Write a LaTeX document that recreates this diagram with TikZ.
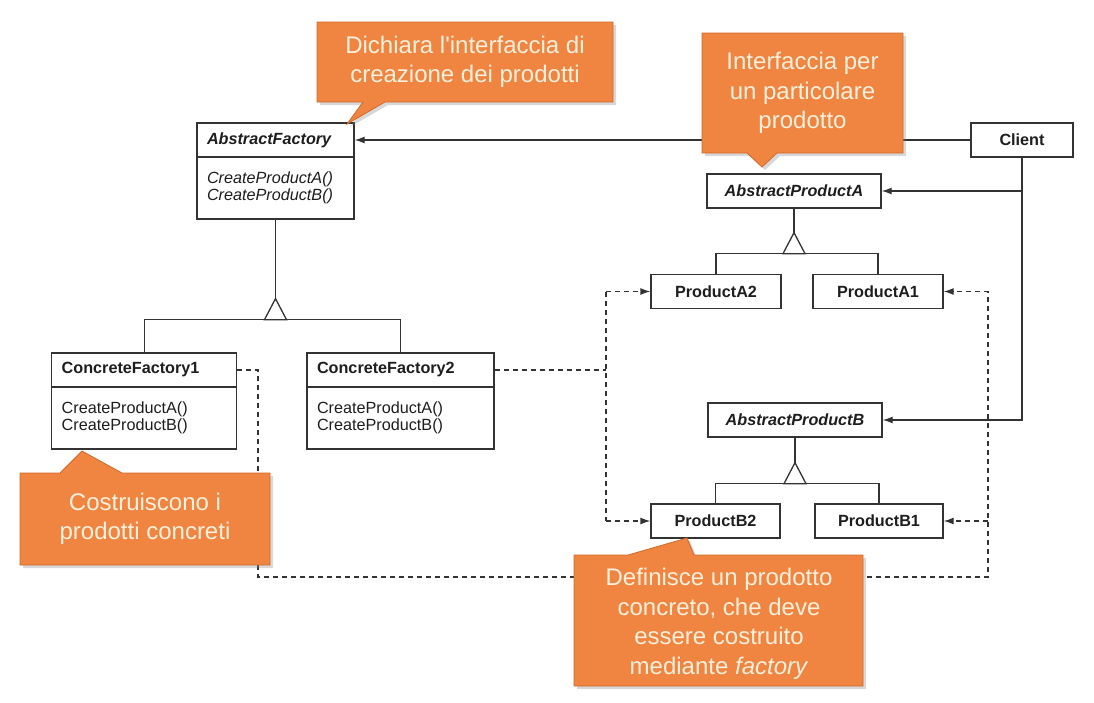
\documentclass[tikz,border=0pt]{standalone}
\usepackage{fontspec}
\setmainfont{Liberation Sans}
\newfontfamily\calfont{Liberation Sans}
\usetikzlibrary{arrows.meta,shadows}
\definecolor{calfill}{HTML}{EF8541}
\definecolor{caldraw}{HTML}{CF6B2C}
\definecolor{caltext}{HTML}{FDF0DC}
\definecolor{umlline}{HTML}{333333}
\definecolor{umltext}{HTML}{1E1E1E}

\begin{document}
\begin{tikzpicture}[x=1pt, y=-1pt,
    draw=umlline, line width=1.3pt,
    cls/.style = {draw, fill=white, text=umltext, inner xsep=10pt, inner ysep=0pt,
                  minimum height=34pt, align=left, font=\fontsize{16.2}{17}\selectfont\bfseries},
    mth/.style = {draw, fill=white, text=umltext, inner xsep=10pt, inner ysep=0pt,
                  minimum height=62pt, align=left, font=\fontsize{16.2}{17}\selectfont},
    prd/.style = {draw, fill=white, text=umltext, inner sep=0pt, minimum height=34pt,
                  font=\fontsize{16.2}{17}\selectfont\bfseries},
    arr/.style = {-{Latex[length=10pt,width=7pt]}},
    dsh/.style = {dash pattern=on 5pt off 4pt},
    cal/.style = {fill=calfill, draw=caldraw, line width=0.8pt,
                  drop shadow={shadow xshift=3pt, shadow yshift=-3pt, opacity=0.3}},
    ctx/.style = {text=caltext, align=center, font=\calfont\fontsize{24}{29.5}\selectfont}
  ]
  \path[use as bounding box, fill=white] (0,0) rectangle (1094,702);

  \node[cls, text width=137pt] (af) at (275.5,140) {\itshape AbstractFactory};
  \node[mth, text width=137pt, font=\fontsize{16.2}{17}\selectfont\itshape] (afm) at (275.5,188)
       {CreateProductA()\\CreateProductB()};
  \node[cls, text width=165pt] (cf1) at (144.2,370) {ConcreteFactory1};
  \node[mth, text width=165pt] (cf1m) at (144.2,418) {CreateProductA()\\CreateProductB()};
  \node[cls, text width=167pt] (cf2) at (400.5,370) {ConcreteFactory2};
  \node[mth, text width=167pt] (cf2m) at (400.5,418) {CreateProductA()\\CreateProductB()};

  \node[prd, minimum width=102pt] (client) at (1022,140) {Client};
  \node[prd, minimum width=174pt] (apA) at (794,191) {\itshape AbstractProductA};
  \node[prd, minimum width=130pt] (pA2) at (716,291.5) {ProductA2};
  \node[prd, minimum width=130pt] (pA1) at (878,291.5) {ProductA1};
  \node[prd, minimum width=174pt] (apB) at (795,420) {\itshape AbstractProductB};
  \node[prd, minimum width=129pt] (pB2) at (715.5,521) {ProductB2};
  \node[prd, minimum width=128pt] (pB1) at (879,521) {ProductB1};

  \foreach \base/\lft/\rgt/\len in {afm/cf1/cf2/79, apA/pA2/pA1/24, apB/pB2/pB1/25}{
    \draw (\base.south) -- ++(0,\len) coordinate (tri);
    \draw[fill=white] (tri) -- ++(-11,21) -- ++(22,0) -- cycle;
    \draw (\lft.north) |- ([yshift=-21pt]tri) -| (\rgt.north);
  }

  \draw[arr] (client.west) -- (af.east);
  \draw[arr] (client.south) |- (apB.east);
  \draw[arr] (client.south |- apA.east) -- (apA.east);

  \coordinate (lx) at (606,400);
  \coordinate (lb) at (258,577);
  \coordinate (rb) at (988,577);
  \draw[dsh] (cf2.east) -- (cf2.east -| lx);
  \draw[dsh] (lx |- pA2.west) -- (lx |- pB2.west);
  \draw[dsh,arr] (lx |- pA2.west) -- (pA2.west);
  \draw[dsh,arr] (lx |- pB2.west) -- (pB2.west);
  \draw[dsh,arr] (cf1.east) -| (lb) -- (rb) |- (pA1.east);
  \draw[dsh,arr] (rb |- pB1.east) -- (pB1.east);

  \path[cal] (317,22) -- (613,22) -- (613,102) -- (385,102) -- (347,124) -- (363,102)
       -- (317,102) -- cycle;
  \node[ctx] (cDecl) at (465,62) {Dichiara l'interfaccia di\\creazione dei prodotti};
  \path[cal] (702,33) -- (903,33) -- (903,153) -- (777,153) -- (762,167) -- (747,153)
       -- (702,153) -- cycle;
  \node[ctx] (cIface) at (802.5,93) {Interfaccia per\\un particolare\\prodotto};
  \path[cal] (20,473) -- (60,473) -- (82,451) -- (122,473) -- (270,473) -- (270,565)
       -- (20,565) -- cycle;
  \node[ctx] (cBuild) at (145,519) {Costruiscono i\\prodotti concreti};
  \path[cal] (574,555) -- (628,555) -- (687,538) -- (694,555) -- (863,555) -- (863,686)
       -- (574,686) -- cycle;
  \node[ctx] (cProd) at (719,624) {Definisce un prodotto\\concreto, che deve\\essere costruito\\mediante \textit{factory}};
\end{tikzpicture}
\end{document}
